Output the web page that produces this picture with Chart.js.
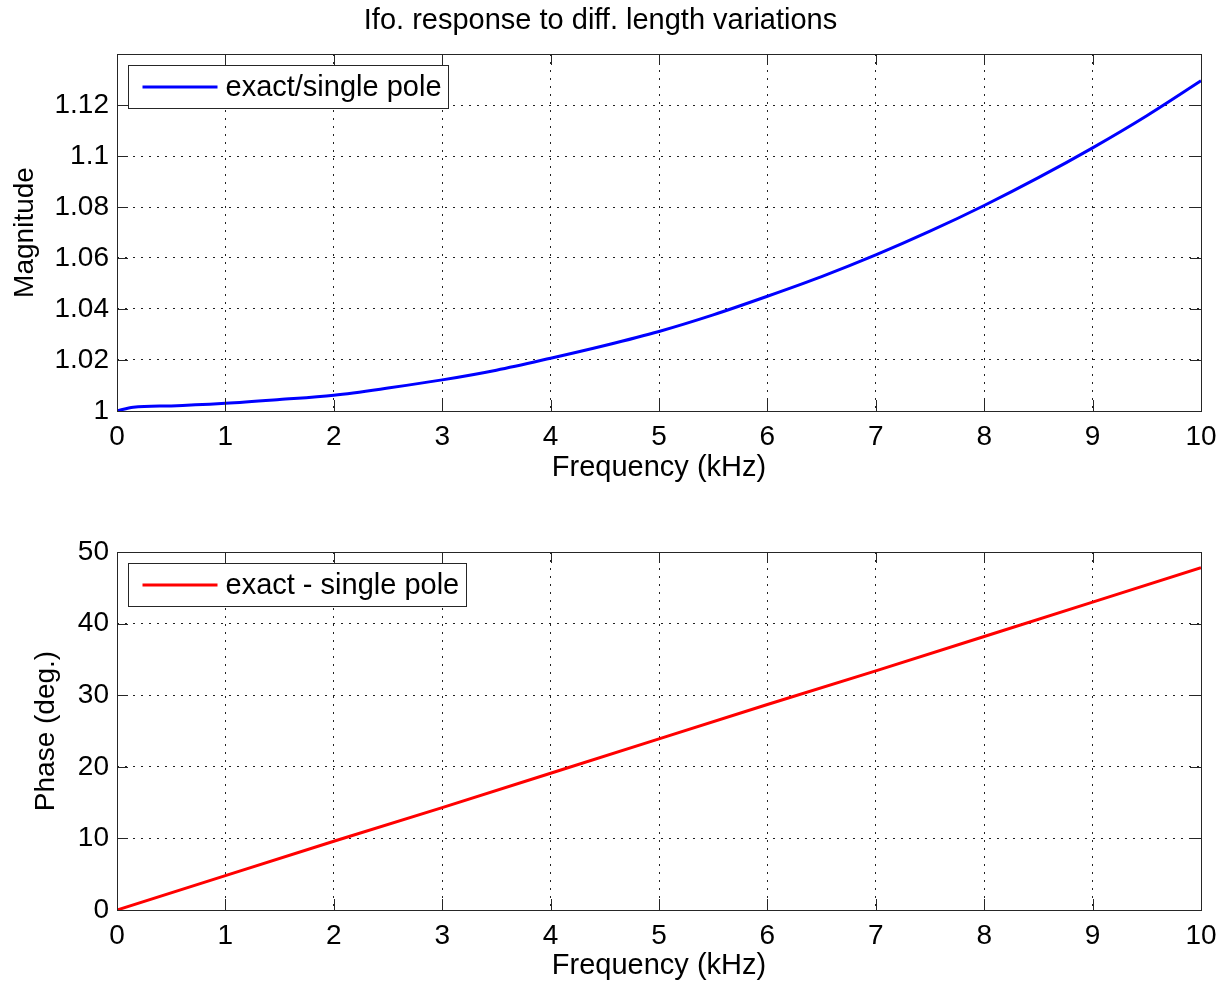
<!DOCTYPE html>
<html>
<head>
<meta charset="utf-8">
<script src="https://cdn.jsdelivr.net/npm/chart.js@4.4.1/dist/chart.umd.min.js"></script>
<style>
  html, body { margin: 0; padding: 0; background: #fff; }
  #page { position: relative; width: 1222px; height: 985px; }
  .box { position: absolute; left: 0; width: 1222px; }
</style>
</head>
<body>
<div id="page">
  <div class="box" style="top:0;height:490px"><canvas id="magChart"></canvas></div>
  <div class="box" style="top:490px;height:495px"><canvas id="phaseChart"></canvas></div>
</div>
<script>
// Data
const chartTitle = 'Ifo. response to diff. length variations';
const xAxisLabel = 'Frequency (kHz)';

const magFreqKHz = [0, 0.15, 0.5, 1, 1.5, 2, 2.5, 3, 3.5, 4, 4.5, 5, 5.5, 6, 6.5, 7, 7.5, 8, 8.5, 9, 9.5, 10];
const magnitude = [1.000, 1.0015, 1.002, 1.003, 1.0045, 1.0062, 1.009, 1.0122, 1.016, 1.0207, 1.0257, 1.0312,
                   1.0377, 1.045, 1.0527, 1.0612, 1.0705, 1.0806, 1.0915, 1.1032, 1.1158, 1.1295];

const phaseFreqKHz = [0, 1, 2, 3, 4, 5, 6, 7, 8, 9, 10];
const phaseDeg = [0, 4.8, 9.6, 14.3, 19.1, 23.9, 28.7, 33.4, 38.2, 43.0, 47.8];

const FONT = '"Liberation Sans", Arial, Helvetica, sans-serif';
const TICK_LEN = 11;

const toPoints = (xs, ys) => xs.map((x, i) => ({ x: x, y: ys[i] }));

// MATLAB-style box, inward ticks and legend inside the axes
const matlabAxes = {
    id: 'matlabAxes',
    afterDatasetsDraw(chart) {
        const { ctx, chartArea: a, scales: { x, y } } = chart;
        ctx.save();
        ctx.strokeStyle = '#262626';
        ctx.lineWidth = 1;
        ctx.beginPath();
        x.ticks.forEach(t => {
            const px = Math.round(x.getPixelForValue(t.value)) + 0.5;
            ctx.moveTo(px, a.bottom); ctx.lineTo(px, a.bottom - TICK_LEN);
            ctx.moveTo(px, a.top); ctx.lineTo(px, a.top + TICK_LEN);
        });
        y.ticks.forEach(t => {
            const py = Math.round(y.getPixelForValue(t.value)) + 0.5;
            ctx.moveTo(a.left, py); ctx.lineTo(a.left + TICK_LEN, py);
            ctx.moveTo(a.right, py); ctx.lineTo(a.right - TICK_LEN, py);
        });
        ctx.stroke();
        ctx.strokeRect(Math.round(a.left) + 0.5, Math.round(a.top) + 0.5,
                       Math.round(a.right - a.left), Math.round(a.bottom - a.top));

        // legend
        const ds = chart.data.datasets[0];
        ctx.font = '29px ' + FONT;
        const bx = Math.round(a.left) + 11.5, by = Math.round(a.top) + 11.5, bh = 43;
        const tx = bx + 97;
        const bw = Math.round(tx - bx + ctx.measureText(ds.label).width + 7);
        ctx.fillStyle = '#fff';
        ctx.fillRect(bx, by, bw, bh);
        ctx.strokeRect(bx, by, bw, bh);
        ctx.strokeStyle = ds.borderColor;
        ctx.lineWidth = ds.borderWidth;
        ctx.beginPath();
        ctx.moveTo(bx + 14, by + bh / 2);
        ctx.lineTo(bx + 89, by + bh / 2);
        ctx.stroke();
        ctx.fillStyle = '#000';
        ctx.textBaseline = 'middle';
        ctx.textAlign = 'left';
        ctx.fillText(ds.label, tx, by + bh / 2 + 1);
        ctx.restore();
    }
};

const makeOptions = (cfg) => ({
    responsive: true,
    maintainAspectRatio: false,
    animation: false,
    layout: { padding: { top: cfg.padTop, right: 21, left: 0, bottom: 0 } },
    plugins: {
        legend: { display: false },
        tooltip: { enabled: false },
        title: cfg.title ? {
            display: true,
            text: cfg.title,
            color: '#000',
            font: { family: FONT, size: 29, weight: 'normal' },
            padding: { top: 4, bottom: 15.2 }
        } : { display: false }
    },
    scales: {
        x: {
            type: 'linear',
            min: 0, max: 10,
            afterFit: (scale) => {
                scale.height = cfg.xHeight;
                scale.paddingLeft = 0;
                scale.paddingRight = 0;
            },
            ticks: { stepSize: 1, padding: 9, maxRotation: 0, color: '#000',
                     font: { family: FONT, size: 28 } },
            grid: { color: '#222', lineWidth: 1, drawTicks: false },
            border: { display: false, dash: [2, 6] },
            title: { display: true, text: xAxisLabel, color: '#000',
                     font: { family: FONT, size: 29 },
                     padding: { top: 0, bottom: cfg.xTitlePad } }
        },
        y: {
            min: cfg.yMin, max: cfg.yMax,
            afterFit: (scale) => {
                scale.width = 117;
                scale.paddingTop = 0;
                scale.paddingBottom = 0;
            },
            ticks: { stepSize: cfg.yStep, padding: 8, color: '#000',
                     font: { family: FONT, size: 28 },
                     callback: cfg.yFormat },
            grid: { color: '#222', lineWidth: 1, drawTicks: false },
            border: { display: false, dash: [2, 6] },
            title: { display: true, text: cfg.yTitle, color: '#000',
                     font: { family: FONT, size: 28 },
                     padding: { top: cfg.yTitlePad, bottom: 0 } }
        }
    }
});

new Chart(document.getElementById('magChart'), {
    type: 'line',
    data: {
        datasets: [{
            label: 'exact/single pole',
            data: toPoints(magFreqKHz, magnitude),
            borderColor: '#0000ff',
            borderWidth: 3,
            pointRadius: 0,
            cubicInterpolationMode: 'monotone',
            fill: false
        }]
    },
    options: makeOptions({
        title: chartTitle, padTop: 0, xHeight: 79, xTitlePad: 5,
        yMin: 1, yMax: 1.14, yStep: 0.02, yTitle: 'Magnitude', yTitlePad: 8,
        yFormat: (v) => (v > 1.13 ? '' : String(Number(v.toFixed(2))))
    }),
    plugins: [matlabAxes]
});

new Chart(document.getElementById('phaseChart'), {
    type: 'line',
    data: {
        datasets: [{
            label: 'exact - single pole',
            data: toPoints(phaseFreqKHz, phaseDeg),
            borderColor: '#ff0000',
            borderWidth: 3,
            pointRadius: 0,
            fill: false
        }]
    },
    options: makeOptions({
        title: null, padTop: 62, xHeight: 75, xTitlePad: 1.5,
        yMin: 0, yMax: 50, yStep: 10, yTitle: 'Phase (deg.)', yTitlePad: 29,
        yFormat: (v) => String(v)
    }),
    plugins: [matlabAxes]
});
</script>
</body>
</html>
